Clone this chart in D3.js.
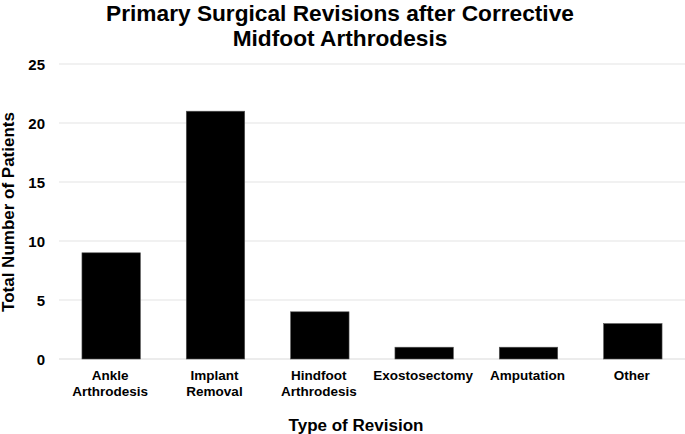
<!DOCTYPE html>
<html><head><meta charset="utf-8">
<script src="https://cdn.jsdelivr.net/npm/d3@7"></script>
<style>body{margin:0;background:#fff}svg{display:block}text{font-family:"Liberation Sans",Arial,sans-serif;font-weight:bold;fill:#000}</style>
</head><body><svg id="c" width="685" height="434"></svg>
<script>
const categories = [["Ankle","Arthrodesis"],["Implant","Removal"],["Hindfoot","Arthrodesis"],["Exostosectomy"],["Amputation"],["Other"]];
const values = [9,21,4,1,1,3];
const yTicks = [0,5,10,15,20,25];
const title = ["Primary Surgical Revisions after Corrective","Midfoot Arthrodesis"];

const svg = d3.select("#c");
const L=59,R=685,T=64,B=359;
const x = d3.scaleBand().domain(d3.range(categories.length)).range([L,R]).paddingInner(0.44).paddingOuter(0.22);
const y = d3.scaleLinear().domain([0,25]).range([B,T]);

function fit(sel, target){
  const w = sel.node().getComputedTextLength();
  const fs = parseFloat(sel.attr("font-size"));
  sel.attr("font-size", (fs*target/w).toFixed(2));
}

svg.append("g").selectAll("line").data(yTicks).join("line")
  .attr("x1",L).attr("x2",R).attr("y1",d=>y(d)).attr("y2",d=>y(d))
  .attr("stroke",d=>d===0?"#d9d9d9":"#e3e3e3").attr("stroke-width",1.2);

svg.append("g").selectAll("text").data(yTicks).join("text")
  .attr("x",45).attr("y",d=>y(d)+5.5).attr("text-anchor","end").attr("font-size",15).text(d=>d);

svg.append("g").selectAll("rect").data(values).join("rect")
  .attr("x",(d,i)=>x(i)).attr("width",x.bandwidth())
  .attr("y",d=>y(d)).attr("height",d=>B-y(d))
  .attr("fill","#000").attr("stroke","#555").attr("stroke-width",0.6);

const xl = svg.append("g").selectAll("text").data(categories).join("text")
  .attr("x",(d,i)=>x(i)+x.bandwidth()/2-1).attr("y",380).attr("text-anchor","middle").attr("font-size",13.5);
xl.selectAll("tspan").data(d=>d).join("tspan")
  .attr("x",function(){return this.parentNode.getAttribute("x");})
  .attr("dy",(d,i)=>i?15.5:0).text(d=>d);

const xt = svg.append("text").attr("x",356).attr("y",431).attr("text-anchor","middle").attr("font-size",17).text("Type of Revision");
fit(xt,135);
const yt = svg.append("text").attr("transform","translate(14,212) rotate(-90)").attr("text-anchor","middle").attr("font-size",16).text("Total Number of Patients");
fit(yt,200);

const tt = svg.append("g").selectAll("text").data(title).join("text")
  .attr("x",340).attr("y",(d,i)=>21+i*25).attr("text-anchor","middle").attr("font-size",22).text(d=>d);
const t0 = d3.select(tt.nodes()[0]);
const w0 = t0.node().getComputedTextLength();
const fs = 22*468/w0;
tt.attr("font-size",fs.toFixed(2));
</script></body></html>
